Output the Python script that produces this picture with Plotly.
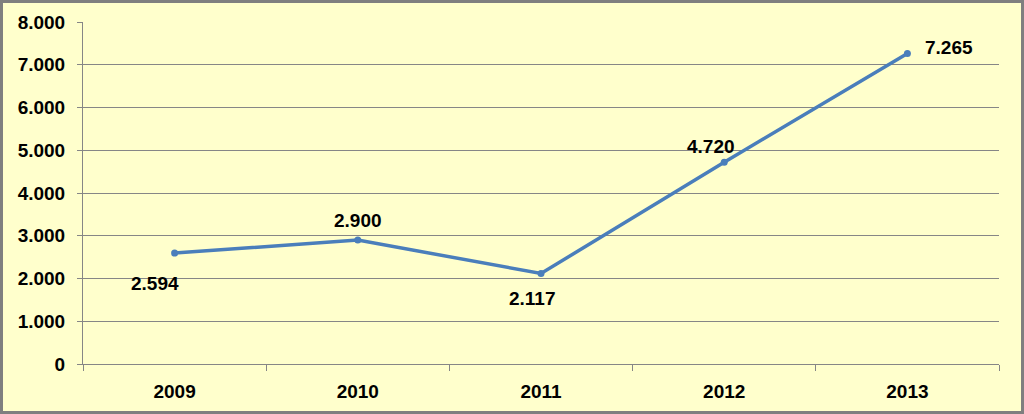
import plotly.graph_objects as go

years = ["2009", "2010", "2011", "2012", "2013"]
values = [2594, 2900, 2117, 4720, 7265]
label_xshift = [-20, 0, -9, -13, 42]
label_yshift = [-30, 20, -25, 16, 6]

W, H = 1024, 414
L, R, T, B = 83, 25, 22, 50
pw, ph = W - L - R, H - T - B
FONT = "Liberation Sans, Arial"

fig = go.Figure()
fig.add_trace(go.Scatter(
    x=years, y=values, mode="lines+markers",
    line=dict(color="#4A7EBB", width=3.5),
    marker=dict(color="#4A7EBB", size=7),
    hoverinfo="skip", showlegend=False,
))

def fmt(v):
    return f"{v:,}".replace(",", ".")

for i, (v, dx, dy) in enumerate(zip(values, label_xshift, label_yshift)):
    fig.add_annotation(x=i, y=v, xref="x", yref="y", text="<b>" + fmt(v) + "</b>",
                       showarrow=False, xshift=dx, yshift=dy,
                       font=dict(family=FONT, size=19, color="black"))

# outer border
fig.add_shape(type="rect", xref="paper", yref="paper",
              x0=-(L - 1.5) / pw, x1=1 + (R - 1.5) / pw,
              y0=-(B - 1.5) / ph, y1=1 + (T - 1.5) / ph,
              line=dict(color="#7F7F7F", width=3), layer="above")

fig.update_layout(
    width=W, height=H,
    margin=dict(l=L, r=R, t=T, b=B),
    paper_bgcolor="#FFFFCC", plot_bgcolor="#FFFFCC",
    separators=",.",
    font=dict(family=FONT, size=19, color="black"),
    xaxis=dict(
        type="category", showgrid=False, showline=True, linecolor="#868686", linewidth=1,
        ticks="outside", tickson="boundaries", ticklen=6, tickcolor="#868686",
        ticklabelstandoff=10,
        tickfont=dict(size=19, family=FONT, weight="bold"),
        range=[-0.5, 4.5], fixedrange=True,
    ),
    yaxis=dict(
        range=[0, 8000], dtick=1000, tickformat=",d",
        showgrid=True, gridcolor="#868686", gridwidth=1,
        showline=True, linecolor="#868686", linewidth=1,
        ticks="outside", ticklen=5, tickcolor="#868686",
        ticklabelstandoff=8,
        tickfont=dict(size=19, family=FONT, weight="bold"),
        zeroline=False, fixedrange=True,
    ),
)

fig.write_html("out.html", config={"displayModeBar": False})
